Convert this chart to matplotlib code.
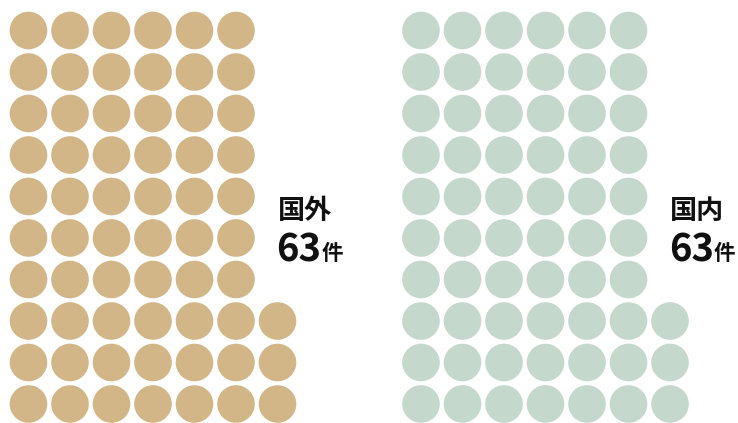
import matplotlib
matplotlib.use("Agg")
import matplotlib.pyplot as plt
from matplotlib.patches import Circle

plt.rcParams['font.family'] = ['Noto Sans CJK JP', 'DejaVu Sans']

# data
categories = ["国外", "国内"]
counts = [63, 63]
unit = "件"
colors = ["#D3B687", "#C4D8CB"]

rows_per_col = 10
W, H = 738, 423
fig = plt.figure(figsize=(W / 100, H / 100), dpi=100)
ax = fig.add_axes([0, 0, 1, 1])
ax.set_xlim(0, W)
ax.set_ylim(H, 0)
ax.axis('off')

spacing = 41.5
radius = 18.8
x0s = [28.5, 421.0]
y_bottom = 404.0

for cat, n, col, x0 in zip(categories, counts, colors, x0s):
    for i in range(n):
        c = i // rows_per_col
        r = i % rows_per_col
        cx = x0 + c * spacing
        cy = y_bottom - r * spacing
        ax.add_patch(Circle((cx, cy), radius, facecolor=col, edgecolor='none'))
    ncols_full = n // rows_per_col + (1 if n % rows_per_col else 0)
    tx = x0 + (ncols_full - 1) * spacing
    ax.text(tx, 219, cat, fontsize=19.5, fontweight='bold', color='#111111',
            ha='left', va='baseline')
    t = ax.text(tx - 1, 262, str(n), fontsize=27.5, fontweight='bold', color='#111111',
                ha='left', va='baseline')
    ax.annotate(unit, xy=(1, 0), xycoords=t, xytext=(0, 4), textcoords='offset points',
                fontsize=15.5, fontweight='bold', color='#111111', ha='left', va='bottom')

fig.savefig("out.png", dpi=100, facecolor='white')
